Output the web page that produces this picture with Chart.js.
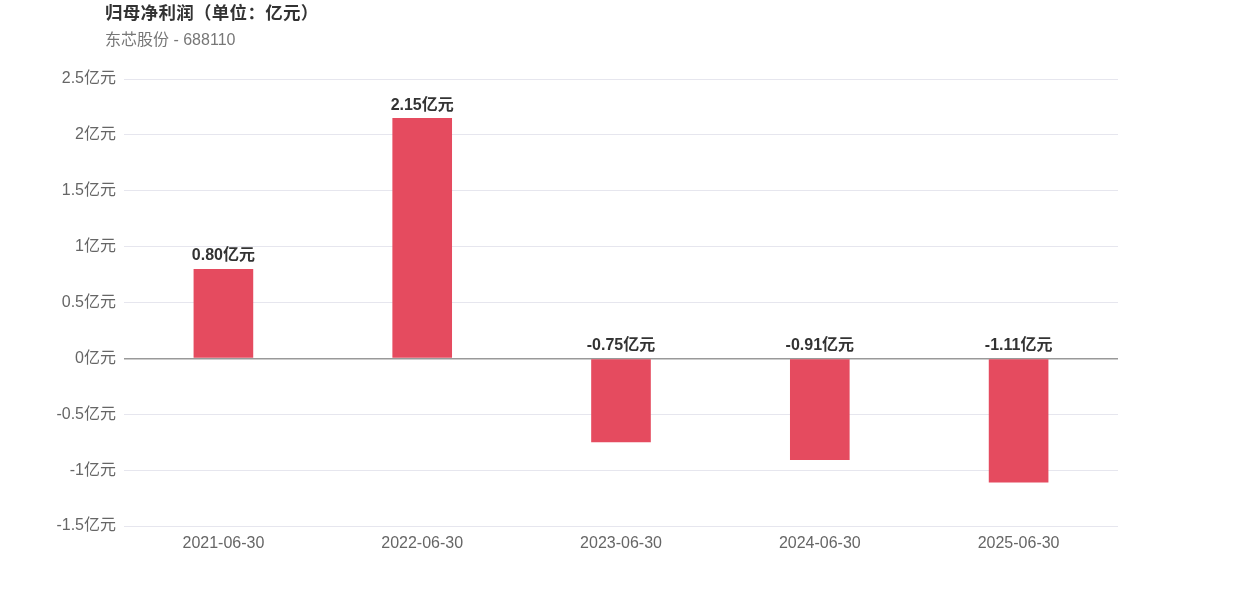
<!DOCTYPE html>
<html><head><meta charset="utf-8">
<script src="https://cdn.jsdelivr.net/npm/chart.js@4/dist/chart.umd.min.js"></script>
<style>
html,body{margin:0;padding:0;background:#fff;}
#wrap{position:relative;width:1242px;height:596px;}
#title{position:absolute;left:105px;top:-1px;font:bold 17.5px "Liberation Sans","Noto Sans CJK SC",sans-serif;color:#333;letter-spacing:0.3px;}
#sub{position:absolute;left:105px;top:26px;font:16px "Liberation Sans","Noto Sans CJK SC",sans-serif;color:#777;}
canvas{position:absolute;left:0;top:0;}
</style></head>
<body><div id="wrap">
<canvas id="c" width="1242" height="596"></canvas>
<div id="title">归母净利润（单位：亿元）</div>
<div id="sub">东芯股份 - 688110</div>
</div>
<script>
const categories = ["2021-06-30","2022-06-30","2023-06-30","2024-06-30","2025-06-30"];
const profitValues = [0.80, 2.15, -0.75, -0.91, -1.11];
const yTickMin = -1.5, yTickMax = 2.5, yTickStep = 0.5;
const unit = "亿元";
const FONT = '"Liberation Sans","Noto Sans CJK SC",sans-serif';

const labelPlugin = {
  id: 'barLabels',
  afterDatasetsDraw(chart) {
    const ctx = chart.ctx;
    const meta = chart.getDatasetMeta(0);
    const yScale = chart.scales.y;
    const zeroY = yScale.getPixelForValue(0);
    ctx.save();
    ctx.font = 'bold 16px ' + FONT;
    ctx.fillStyle = '#333';
    ctx.textAlign = 'center';
    ctx.textBaseline = 'bottom';
    meta.data.forEach((bar, i) => {
      const v = profitValues[i];
      const y = v >= 0 ? bar.y - 5 : zeroY - 5;
      ctx.fillText(v.toFixed(2) + unit, bar.x, y);
    });
    ctx.restore();
  }
};

new Chart(document.getElementById('c'), {
  type: 'bar',
  data: {
    labels: categories,
    datasets: [{
      data: profitValues,
      backgroundColor: '#e54b5f',
      barPercentage: 0.3,
      categoryPercentage: 1.0
    }]
  },
  options: {
    responsive: false,
    animation: false,
    layout: { padding: { left: 0, right: 124, top: 79, bottom: 0 } },
    plugins: { legend: { display: false }, tooltip: { enabled: false } },
    scales: {
      x: {
        grid: { display: false },
        border: { display: false },
        ticks: { color: '#666', font: { size: 16, family: FONT }, padding: 0, maxRotation: 0 },
        afterFit(s) { s.height = 70; }
      },
      y: {
        min: yTickMin, max: yTickMax,
        border: { display: false },
        grid: {
          drawTicks: false,
          color: c => c.tick && c.tick.value === 0 ? '#999' : '#e6e6ee',
          lineWidth: c => c.tick && c.tick.value === 0 ? 1.5 : 1
        },
        ticks: {
          stepSize: yTickStep,
          color: '#666',
          font: { size: 16, family: FONT },
          padding: 8,
          callback: v => v + unit
        },
        afterFit(s) { s.width = 124; }
      }
    }
  },
  plugins: [labelPlugin]
});
</script>
</body></html>
